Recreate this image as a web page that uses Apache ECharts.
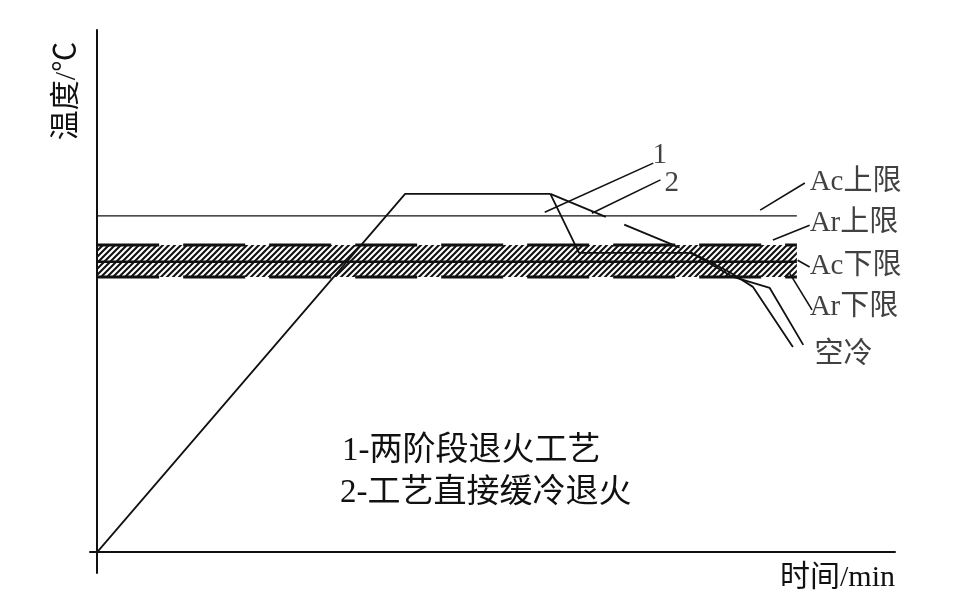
<!DOCTYPE html>
<html>
<head>
<meta charset="utf-8">
<title>退火工艺曲线</title>
<script src="https://cdn.jsdelivr.net/npm/echarts@6/dist/echarts.min.js"></script>
<style>
    html, body { margin: 0; padding: 0; background: #fff; }
    #main { width: 972px; height: 606px; }
</style>
</head>
<body>
<div id="main"></div>
<script>
// 横轴：时间（相对单位），纵轴：温度（相对单位），读图估计
var heating = [[0, 0], [38.6, 68.6], [56.8, 68.6]];                 // 加热 + 保温
var curve1 = [[56.8, 68.6], [60.4, 57.3], [74.3, 57.3], [75.6, 56.5],
              [79.3, 53.6], [82.2, 50.8], [87.2, 39.3]];            // 1-两阶段退火
var curve2Slow = [[56.8, 68.6], [74.3, 57.5]];                      // 2-缓冷段（虚线）
var curve2Cool = [[74.3, 57.5], [76.4, 55.6], [79.7, 52.7],
                  [84.3, 50.6], [88.5, 39.7]];                      // 2-空冷段

var lineEnd = 87.7;
var acUpper = 64.4;   // Ac上限
var arUpper = 58.8;   // Ar上限
var acLower = 55.6;   // Ac下限
var arLower = 52.7;   // Ar下限

var legendTexts = ['1-两阶段退火工艺', '2-工艺直接缓冷退火'];

// 标注文字与引线（数据坐标）
var labels = [
    { name: '1', value: [69.6, 75.9] },
    { name: '2', value: [71.1, 70.7] },
    { name: 'Ac上限', value: [89.3, 70.9] },
    { name: 'Ar上限', value: [89.3, 63.0] },
    { name: 'Ac下限', value: [89.3, 54.8] },
    { name: 'Ar下限', value: [89.3, 46.9] },
    { name: '空冷', value: [89.9, 37.6] }
];
var leaders = [
    [[69.7, 74.5], [56.1, 65.1]],
    [[70.6, 71.3], [62.0, 64.9]],
    [[88.7, 70.7], [83.1, 65.5]],
    [[89.3, 62.6], [84.7, 59.8]],
    [[89.3, 54.6], [87.8, 55.9]],
    [[89.6, 46.4], [86.8, 53.4]]
];

var FONT = '"Liberation Serif", "Noto Sans CJK SC", serif';
var INK = '#111';

function hatch() {
    var c = document.createElement('canvas');
    c.width = 6; c.height = 6;
    var g = c.getContext('2d');
    g.strokeStyle = '#111';
    g.lineWidth = 2.1;
    g.beginPath();
    g.moveTo(-1, 7); g.lineTo(7, -1);
    g.moveTo(-4, 4); g.lineTo(4, -4);
    g.moveTo(2, 10); g.lineTo(10, 2);
    g.stroke();
    return c;
}

function flat(y) { return [[0, y], [lineEnd, y]]; }

function plain(name, data, width, type) {
    return {
        name: name, type: 'line', data: data, symbol: 'none', silent: true,
        lineStyle: { color: INK, width: width, type: type || 'solid' },
        z: 5
    };
}

var myChart = echarts.init(document.getElementById('main'));
var series = [
    plain('Ac上限', flat(acUpper), 1.3),
    {
        name: 'Ac下限', type: 'line', data: flat(acLower), symbol: 'none', silent: true,
        lineStyle: { color: INK, width: 2.5 }, z: 4,
        markArea: {
            silent: true,
            itemStyle: { color: { image: hatch(), repeat: 'repeat' } },
            data: [[{ coord: [0, arLower] }, { coord: [lineEnd, arUpper] }]]
        }
    },
    plain('Ar上限', flat(arUpper), 3, [62, 24]),
    plain('Ar下限', flat(arLower), 3, [62, 24]),
    plain('加热', heating, 1.8),
    plain('1', curve1, 1.8),
    plain('2缓冷', curve2Slow, 1.8, [60, 20]),
    plain('2空冷', curve2Cool, 1.8)
];
leaders.forEach(function (seg, i) {
    series.push(plain('leader' + i, seg, 1.6));
});
series.push({
    type: 'scatter', data: labels, symbolSize: 0, silent: true, z: 6,
    label: {
        show: true, position: 'right', distance: 0,
        formatter: '{b}', color: INK, fontSize: 29, fontFamily: FONT
    }
});

option = {
    animation: false,
    backgroundColor: '#fff',
    grid: { left: 90, right: 77, top: 30, bottom: 33 },
    xAxis: {
        type: 'value', min: -0.9, max: 100,
        name: '时间/min', nameLocation: 'end', nameGap: 0,
        nameTextStyle: {
            color: INK, fontSize: 30, fontFamily: FONT,
            align: 'right', verticalAlign: 'top', padding: [11, 0, 0, 0]
        },
        axisLine: { onZero: true, lineStyle: { color: INK, width: 2 } },
        axisTick: { show: false }, axisLabel: { show: false }, splitLine: { show: false }
    },
    yAxis: {
        type: 'value', min: -4, max: 100,
        axisLine: { onZero: true, lineStyle: { color: INK, width: 2 } },
        axisTick: { show: false }, axisLabel: { show: false }, splitLine: { show: false }
    },
    graphic: [
        {
            type: 'text', x: 67, y: 91, rotation: Math.PI / 2,
            style: {
                text: '温度/℃', fill: INK, font: '30px ' + FONT,
                textAlign: 'center', textVerticalAlign: 'middle'
            }
        },
        {
            type: 'text', left: 342, top: 435,
            style: { text: legendTexts[0], fill: INK, font: '33px ' + FONT }
        },
        {
            type: 'text', left: 340, top: 477,
            style: { text: legendTexts[1], fill: INK, font: '33px ' + FONT }
        }
    ],
    series: series
};
myChart.setOption(option);
</script>
</body>
</html>
